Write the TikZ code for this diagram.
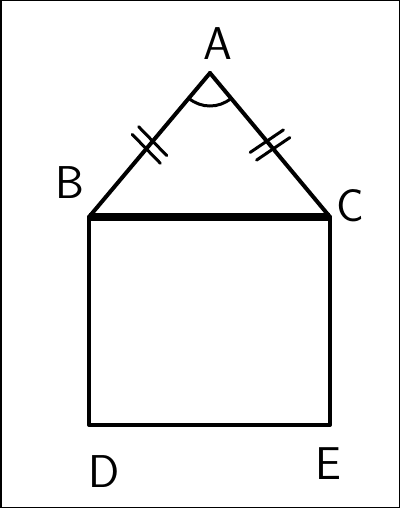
\documentclass[tikz,border=0pt]{standalone}
\usetikzlibrary{angles,decorations.markings}
\tikzset{
  side/.style={line width=4pt,line cap=round,line join=round},
  base/.style={line width=8pt},
  ticks/.style={decoration={markings,mark=at position 0.5 with {
      \draw[line width=3pt] (-7pt,-20pt) -- (-3pt,20pt);
      \draw[line width=3pt] (3pt,-20pt) -- (7pt,20pt);}},postaction={decorate}},
  lbl/.style={inner sep=0pt,font=\fontsize{46}{46}\sffamily}
}
\begin{document}
\begin{tikzpicture}[x=1pt,y=1pt,yscale=-1,xscale=1]
\useasboundingbox (0,0) rectangle (400,508);
%Frame
\draw[line width=1.5pt] (0.75,0.75) rectangle (399.25,507.25);

\coordinate (A) at (210,73);
\coordinate (B) at (89,217);
\coordinate (C) at (330,217);
\coordinate (D) at (89,425);
\coordinate (E) at (330,425);

%Shape: Triangle
\draw[side,ticks] (B) -- (A);
\draw[side,ticks] (A) -- (C);
\pic[draw,line width=3pt,angle radius=33pt] {angle=B--A--C};
%Shape: Square
\draw[side] (C) -- (E) -- (D) -- (B);
\draw[base] (B) -- (C);

% Text Node
\node[lbl] (lA) at (218,44) {A};
\node[lbl] (lB) at (70,183) {B};
\node[lbl] (lC) at (350,206) {C};
\node[lbl] (lD) at (104,472) {D};
\node[lbl] (lE) at (328,464) {E};
\end{tikzpicture}
\end{document}
